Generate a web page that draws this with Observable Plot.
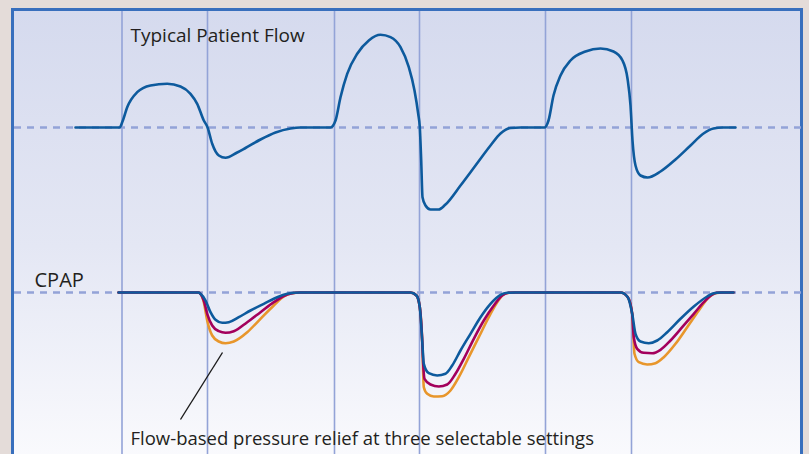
<!DOCTYPE html>
<html>
<head>
<meta charset="utf-8">
<script src="https://cdn.jsdelivr.net/npm/d3@7"></script>
<script src="https://cdn.jsdelivr.net/npm/@observablehq/plot@0.6"></script>
<style>
  html, body { margin: 0; padding: 0; width: 809px; height: 454px; overflow: hidden; background: #e4dcd9; }
  #frame { position: absolute; left: 11px; top: 8px; width: 786px; height: 470px;
    border: 3px solid #386fbd; border-bottom: none;
    background: linear-gradient(to bottom, #d5daee 0%, #e4e7f4 50%, #fcfcfe 100%); }
  #chart { position: absolute; left: 0; top: 0; }
</style>
</head>
<body>
<div id="frame"></div>
<div id="chart"></div>
<script>
// Time (s) of the inspiration / expiration phase boundaries
const phaseTimes = [1.175, 2.03, 3.30, 4.15, 5.41, 6.27];

// Typical patient flow: [time s, relative flow]
const flowCurve = [
  [0.71, 0], [1.15, 0], [1.18, 6], [1.227, 20.3], [1.327, 35.3], [1.46, 42], [1.627, 43.7],
  [1.76, 41], [1.86, 33.7], [1.927, 23.7], [1.993, 7], [2.03, 0.3], [2.077, -16.3],
  [2.143, -28], [2.21, -30.3], [2.327, -25], [2.41, -20.5], [2.56, -12], [2.71, -5],
  [2.86, -1], [2.96, 0], [3.26, 0], [3.31, 7], [3.36, 30.3], [3.427, 53.7], [3.527, 73.7],
  [3.643, 87], [3.76, 92.7], [3.86, 90.3], [3.96, 80.3], [4.043, 60.3], [4.10, 37],
  [4.137, 13.7], [4.153, 0.3], [4.167, -33], [4.18, -69.7], [4.21, -78], [4.26, -82],
  [4.34, -82], [4.41, -77], [4.56, -58], [4.71, -38], [4.86, -18], [4.96, -6], [5.06, -0.5],
  [5.16, 0], [5.40, 0], [5.44, 7], [5.49, 32], [5.56, 52], [5.66, 67], [5.81, 76], [5.96, 79],
  [6.09, 76], [6.18, 67], [6.23, 49], [6.26, 22], [6.28, -13], [6.31, -38], [6.36, -48],
  [6.43, -50], [6.56, -44], [6.71, -32], [6.86, -18], [6.99, -6], [7.09, -1], [7.18, 0], [7.31, 0]
];

// CPAP pressure with flow-based relief, three settings: [time s, relative pressure]
const reliefSetting1 = [
  [1.14, 0], [1.94, 0], [1.96, -1.3], [2.01, -8], [2.06, -19.7], [2.11, -27.3], [2.177, -30.3],
  [2.243, -29.7], [2.343, -24.7], [2.46, -18], [2.593, -11.3], [2.727, -4.7], [2.827, -1.3],
  [2.893, -0.3], [2.96, 0], [4.06, 0], [4.12, -3], [4.153, -14.7], [4.177, -48], [4.193, -71.3],
  [4.243, -80.7], [4.327, -83], [4.41, -81.3], [4.477, -73], [4.56, -58], [4.66, -41.3],
  [4.76, -24.7], [4.86, -11.3], [4.96, -2.3], [5.027, -0.3], [5.11, 0], [6.16, 0], [6.233, -4.7],
  [6.277, -21.3], [6.31, -41.3], [6.36, -49], [6.443, -50.7], [6.527, -48], [6.627, -39.7],
  [6.76, -26.3], [6.893, -14], [7.027, -4], [7.093, -0.7], [7.16, 0], [7.29, 0]
];
const reliefSetting2 = [
  [1.14, 0], [1.94, 0], [1.96, -1.3], [1.993, -8], [2.027, -21.3], [2.077, -33], [2.143, -38.7],
  [2.21, -40.3], [2.293, -38.7], [2.427, -29.7], [2.56, -19.7], [2.693, -9.7], [2.827, -2],
  [2.91, -0.3], [2.96, 0], [4.06, 0], [4.12, -3], [4.153, -14.7], [4.177, -48], [4.187, -71.3],
  [4.20, -86.3], [4.26, -92], [4.343, -94], [4.427, -92], [4.51, -81.3], [4.593, -66.3],
  [4.693, -46.3], [4.793, -28], [4.893, -13], [4.977, -3], [5.04, -0.3], [5.11, 0], [6.16, 0],
  [6.233, -4.7], [6.277, -21.3], [6.293, -44.7], [6.327, -56.3], [6.393, -60.3], [6.477, -60.7],
  [6.56, -57.3], [6.66, -48], [6.777, -34.7], [6.893, -21.3], [6.993, -9.7], [7.077, -2],
  [7.12, -0.3], [7.18, 0], [7.29, 0]
];
const reliefSetting3 = [
  [1.14, 0], [1.94, 0], [1.96, -1.3], [1.993, -9.7], [2.027, -28], [2.077, -43], [2.143, -49],
  [2.21, -50.7], [2.293, -49], [2.427, -39.7], [2.56, -26.3], [2.693, -13], [2.793, -4],
  [2.877, -0.7], [2.96, 0], [4.06, 0], [4.12, -3], [4.153, -14.7], [4.177, -48], [4.193, -94.7],
  [4.227, -101.3], [4.293, -104], [4.377, -103.7], [4.46, -98], [4.543, -84.7], [4.643, -64.7],
  [4.743, -44.7], [4.843, -24.7], [4.927, -9.7], [4.993, -2], [5.05, -0.3], [5.11, 0], [6.16, 0],
  [6.233, -4.7], [6.277, -21.3], [6.30, -61.3], [6.343, -69.7], [6.427, -72], [6.51, -70.7],
  [6.593, -64.7], [6.71, -51.3], [6.827, -34.7], [6.943, -18], [7.043, -4.7], [7.11, -0.7],
  [7.18, 0], [7.29, 0]
];

const panels = ["flow", "pressure"];
const labelTexts = ["Typical Patient Flow", "CPAP", "Flow-based pressure relief at three selectable settings"];
const labelPanels = ["flow", "pressure", "pressure"];
const labelTimes = [1.26, 0.30, 1.26];
const labelValues = [85.5, 6, -152];
const labelSizes = [19, 20, 18.5];
const pointer = [{t1: 1.76, v1: -127, t2: 2.18, v2: -60}];

const labels = labelTexts.map((text, i) => ({text, panel: labelPanels[i], t: labelTimes[i], v: labelValues[i], size: labelSizes[i]}));

const blue = "#0d5a9d", magenta = "#a3005c", orange = "#e8962b";
const guide = "#93a3d7";

const xT = d => d[0], yV = d => d[1];

const plot = Plot.plot({
  width: 809,
  height: 454,
  marginLeft: 4,
  marginRight: 5,
  marginTop: 20,
  marginBottom: 104,
  style: {background: "transparent", overflow: "visible", fontFamily: "'Open Sans', sans-serif"},
  x: {domain: [0, 8], axis: null},
  y: {domain: [-58, 107], axis: null},
  fy: {domain: panels, padding: 0, axis: null, label: null},
  marks: [
    Plot.ruleX(phaseTimes, {x: d => d, y1: 116, y2: -330, fy: () => "flow", stroke: guide, strokeWidth: 1.6}),
    Plot.ruleY([0], {x1: 0.1, x2: 7.97, stroke: guide, strokeWidth: 2.4, strokeDasharray: "7,6"}),
    Plot.line(flowCurve, {x: xT, y: yV, fy: () => "flow", curve: "monotone-x", stroke: blue, strokeWidth: 2.6}),
    Plot.line(reliefSetting3, {x: xT, y: yV, fy: () => "pressure", curve: "monotone-x", stroke: orange, strokeWidth: 2.6}),
    Plot.line(reliefSetting2, {x: xT, y: yV, fy: () => "pressure", curve: "monotone-x", stroke: magenta, strokeWidth: 2.6}),
    Plot.line(reliefSetting1, {x: xT, y: yV, fy: () => "pressure", curve: "monotone-x", stroke: blue, strokeWidth: 2.6}),
    Plot.link(pointer, {x1: "t1", y1: "v1", x2: "t2", y2: "v2", fy: () => "pressure", stroke: "#1b1b1b", strokeWidth: 1.4}),
    ...labels.map(l => Plot.text([l], {x: "t", y: "v", text: "text", fy: "panel", textAnchor: "start", lineAnchor: "bottom", fontSize: l.size, fill: "#231f20"}))
  ]
});
document.getElementById("chart").appendChild(plot);
</script>
</body>
</html>
